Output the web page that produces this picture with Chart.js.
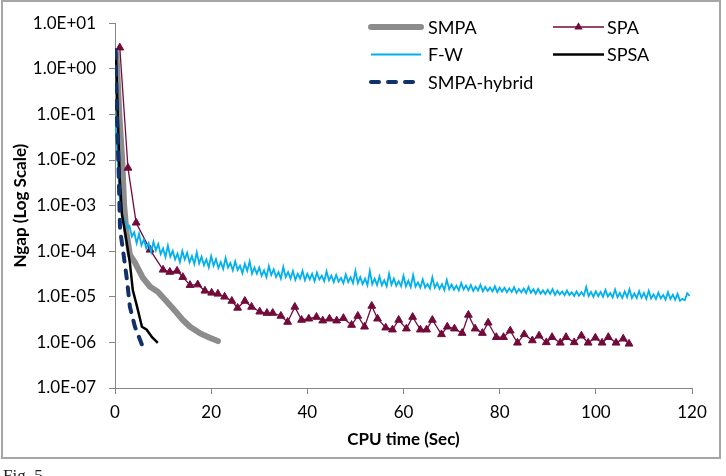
<!DOCTYPE html>
<html>
<head>
<meta charset="utf-8">
<title>Ngap vs CPU time</title>
<script src="https://cdn.jsdelivr.net/npm/chart.js@4.4.0/dist/chart.umd.min.js"></script>
<style>
  html, body { margin: 0; padding: 0; background: #fff; overflow: hidden; }
  #wrap { position: relative; width: 726px; height: 476px; }
  canvas { position: absolute; left: 0; top: 0; }
  #frame { position: absolute; left: 1px; top: 0; width: 716px; height: 455px; border: 2px solid #a6a6a6; }
  #fig { position: absolute; left: 3px; top: 466px; font: 17px 'Liberation Serif', serif; color: #222; }
</style>
</head>
<body>
<div id="wrap">
  <canvas id="chart" width="726" height="476"></canvas>
  <div id="frame"></div>
  <div id="fig">Fig. 5</div>
</div>
<script>
// y axis: only the decades are labelled
const yTickValues = [1e-7, 1e-6, 1e-5, 1e-4, 1e-3, 1e-2, 1e-1, 1e0, 1e1];
const yTickLabels = ['1.0E-07', '1.0E-06', '1.0E-05', '1.0E-04', '1.0E-03', '1.0E-02', '1.0E-01', '1.0E+00', '1.0E+01'];

// SMPA
const smpaTime = [0.3, 0.9, 1.5, 1.9, 2.4, 3.1, 4.15, 5.8, 7.3, 8.9, 10.8, 12.5, 14.1, 15.6, 17.6, 19.7, 21.4];
const smpaGap = [2.2, 1e-1, 1e-2, 1e-3, 2.5e-4, 8.3e-5, 5.6e-5, 2.6e-5, 1.66e-5, 1.29e-5, 7.8e-6, 4.9e-6, 3.1e-6, 2.2e-6, 1.6e-6, 1.26e-6, 1.07e-6];

// SPA
const spaTime = [1.0, 2.7, 4.4, 7.3, 10.0, 11.4, 12.9, 14.1, 15.6, 17.2, 18.7, 20.1, 21.4, 22.8, 24.3,
  25.5, 27.0, 28.4, 30.1, 31.6, 32.8, 34.5, 35.9, 37.4, 38.8, 40.3, 41.9, 43.2, 44.6, 46.1,
  47.5, 49.2, 50.5, 51.9, 53.4, 54.6, 56.3, 57.7, 59.0, 60.6, 61.9, 63.5, 64.8, 66.0, 67.9,
  69.1, 70.6, 72.2, 73.5, 74.9, 76.4, 77.6, 79.3, 80.8, 82.2, 83.7, 85.1, 86.8, 88.2, 89.7,
  90.9, 92.6, 93.8, 95.5, 97.0, 98.4, 99.9, 101.3, 102.6, 104.2, 105.7, 106.9];
const spaGap = [2.9, 6.7e-3, 4.2e-4, 1.07e-4, 3.9e-5, 3.5e-5, 3.7e-5, 2.7e-5, 1.8e-5, 1.85e-5, 1.35e-5, 1.22e-5, 1.16e-5, 1.0e-5, 8.1e-6,
  5.7e-6, 8.1e-6, 6.0e-6, 4.7e-6, 4.4e-6, 4.4e-6, 3.8e-6, 2.8e-6, 6.0e-6, 3.1e-6, 3.3e-6, 3.6e-6, 3.0e-6, 3.3e-6, 3.0e-6,
  3.4e-6, 2.4e-6, 3.8e-6, 2.2e-6, 6.3e-6, 3.3e-6, 2.1e-6, 1.9e-6, 3.1e-6, 2.0e-6, 3.6e-6, 1.9e-6, 1.9e-6, 3.1e-6, 1.5e-6,
  2.2e-6, 2.0e-6, 1.6e-6, 4.0e-6, 2.0e-6, 1.6e-6, 2.7e-6, 1.3e-6, 1.3e-6, 1.8e-6, 9.8e-7, 1.5e-6, 1.1e-6, 1.4e-6, 1.0e-6,
  1.3e-6, 9.8e-7, 1.3e-6, 1.0e-6, 1.4e-6, 9.8e-7, 1.26e-6, 9.8e-7, 1.3e-6, 9.8e-7, 1.2e-6, 9.3e-7];

// F-W
const fwTime = [0, 0.35, 0.7, 1, 1.6,
  2, 2.5, 3, 3.5, 4, 4.5, 5, 5.5, 6, 6.5, 7, 7.5, 8, 8.5, 9, 9.5, 10, 10.5, 11, 11.5, 12, 12.5, 13, 13.5, 14, 14.5,
  15, 15.5, 16, 16.5, 17, 17.5, 18, 18.5, 19, 19.5, 20,
  20.5, 21, 21.5, 22, 22.5, 23, 23.5, 24, 24.5, 25, 25.5, 26, 26.5, 27, 27.5, 28, 28.5, 29, 29.5, 30,
  30.5, 31, 31.5, 32, 32.5, 33, 33.5, 34, 34.5, 35, 35.5, 36, 36.5, 37, 37.5, 38, 38.5, 39, 39.5, 40,
  40.5, 41, 41.5, 42, 42.5, 43, 43.5, 44, 44.5, 45, 45.5, 46, 46.5, 47, 47.5, 48, 48.5, 49, 49.5, 50,
  50.5, 51, 51.5, 52, 52.5, 53, 53.5, 54, 54.5, 55, 55.5, 56, 56.5, 57, 57.5, 58, 58.5, 59, 59.5, 60,
  60.5, 61, 61.5, 62, 62.5, 63, 63.5, 64, 64.5, 65, 65.5, 66, 66.5, 67, 67.5, 68, 68.5, 69, 69.5, 70,
  70.5, 71, 71.5, 72, 72.5, 73, 73.5, 74, 74.5, 75, 75.5, 76, 76.5, 77, 77.5, 78, 78.5, 79, 79.5, 80,
  80.5, 81, 81.5, 82, 82.5, 83, 83.5, 84, 84.5, 85, 85.5, 86, 86.5, 87, 87.5, 88, 88.5, 89, 89.5, 90,
  90.5, 91, 91.5, 92, 92.5, 93, 93.5, 94, 94.5, 95, 95.5, 96, 96.5, 97, 97.5, 98, 98.5, 99, 99.5, 100,
  100.5, 101, 101.5, 102, 102.5, 103, 103.5, 104, 104.5, 105, 105.5, 106, 106.5, 107, 107.5, 108, 108.5, 109, 109.5, 110,
  110.5, 111, 111.5, 112, 112.5, 113, 113.5, 114, 114.5, 115, 115.5, 116, 116.5, 117, 117.5, 118, 118.5, 119, 119.5];
const fwGap = [1e-1, 2.7e-2, 5e-3, 1.3e-3, 5.4e-4,
  48e-5, 33e-5, 36e-5, 21e-5, 26e-5, 15e-5, 24e-5, 13.5e-5, 18e-5, 11.5e-5, 15e-5, 9.6e-5, 16e-5, 10.4e-5, 14.3e-5, 8.6e-5,
  11.5e-5, 7.5e-5, 13.3e-5, 7.6e-5, 10.2e-5, 6.6e-5, 8.8e-5, 5.8e-5, 10.1e-5, 6.6e-5, 9.2e-5, 5.7e-5, 7.8e-5, 5.2e-5,
  9.4e-5, 5.4e-5, 7.6e-5, 4.9e-5, 6.6e-5, 4.4e-5, 7.8e-5,
  4.8e-5, 6.7e-5, 4.3e-5, 5.8e-5, 4.1e-5, 7.1e-5, 4.4e-5, 5.5e-5, 3.8e-5, 6.0e-5, 3.9e-5, 4.8e-5, 3.3e-5, 5.3e-5, 3.7e-5,
  6.0e-5, 3.2e-5, 4.4e-5, 3.2e-5, 4.4e-5, 2.9e-5, 3.8e-5, 2.7e-5, 4.7e-5, 3.0e-5, 4.0e-5, 2.7e-5, 3.5e-5, 2.5e-5, 4.5e-5,
  2.7e-5, 3.5e-5, 2.5e-5, 3.7e-5, 2.35e-5, 3.2e-5, 2.5e-5, 3.7e-5, 2.3e-5, 3.2e-5,
  2.4e-5, 3.2e-5, 2.2e-5, 3.4e-5, 2.4e-5, 2.9e-5, 2.2e-5, 3.6e-5, 2.3e-5, 2.9e-5, 2.1e-5, 3.0e-5, 2.15e-5, 2.6e-5, 2.0e-5,
  3.1e-5, 2.1e-5, 2.7e-5, 2.0e-5, 3.7e-5, 2.0e-5, 2.7e-5, 1.9e-5, 2.5e-5, 1.8e-5, 3.7e-5, 1.9e-5, 2.5e-5, 1.8e-5, 2.8e-5,
  1.8e-5, 2.3e-5, 1.7e-5, 3.2e-5, 1.85e-5, 2.5e-5, 1.75e-5, 2.2e-5, 1.7e-5, 2.9e-5,
  1.7e-5, 2.25e-5, 1.62e-5, 3.0e-5, 1.66e-5, 2.07e-5, 1.58e-5, 2.4e-5, 1.59e-5, 1.9e-5, 1.51e-5, 2.67e-5, 1.58e-5, 2.0e-5, 1.49e-5,
  1.9e-5, 1.41e-5, 2.35e-5, 1.47e-5, 1.85e-5, 1.43e-5, 1.76e-5, 1.38e-5, 2.0e-5, 1.45e-5, 1.76e-5, 1.4e-5, 1.82e-5, 1.35e-5, 1.67e-5,
  1.37e-5, 1.84e-5, 1.32e-5, 1.66e-5, 1.35e-5, 1.59e-5, 1.31e-5, 1.7e-5, 1.27e-5, 1.6e-5,
  1.3e-5, 1.57e-5, 1.26e-5, 1.53e-5, 1.27e-5, 1.62e-5, 1.22e-5, 1.48e-5, 1.25e-5, 1.52e-5, 1.21e-5, 1.64e-5, 1.22e-5, 1.46e-5, 1.17e-5,
  1.49e-5, 1.17e-5, 1.38e-5, 1.15e-5, 1.43e-5, 1.16e-5, 1.47e-5, 1.1e-5, 1.36e-5, 1.13e-5, 1.31e-5, 1.08e-5, 1.37e-5, 1.09e-5, 1.26e-5,
  1.04e-5, 1.31e-5, 1.05e-5, 1.27e-5, 1.06e-5, 1.64e-5, 1.03e-5, 1.28e-5, 1.0e-5, 1.32e-5,
  1.03e-5, 1.28e-5, 1.0e-5, 1.41e-5, 1.01e-5, 1.21e-5, 0.97e-5, 1.44e-5, 0.98e-5, 1.21e-5, 0.94e-5, 1.31e-5, 0.98e-5, 1.46e-5, 0.94e-5,
  1.18e-5, 0.94e-5, 1.33e-5, 0.95e-5, 1.21e-5, 0.9e-5, 1.35e-5, 0.92e-5, 1.13e-5, 0.89e-5, 1.23e-5, 0.92e-5, 1.1e-5, 0.87e-5, 1.27e-5,
  0.89e-5, 1.11e-5, 0.86e-5, 1.16e-5, 0.82e-5, 0.9e-5, 0.84e-5, 1.2e-5, 1.05e-5];

// SPSA
const spsaTime = [0.2, 0.6, 1.0, 1.45, 2.1, 3.1, 3.7, 4.6, 5.6, 6.6, 7.7, 8.9];
const spsaGap = [2.3, 7.5e-2, 3.6e-3, 6.3e-4, 2.6e-4, 5.5e-5, 1.4e-5, 6e-6, 2.2e-6, 1.9e-6, 1.3e-6, 9.8e-7];

// SMPA-hybrid
const hybridTime = [0.1, 0.4, 0.75, 1.05, 1.65, 2.5, 3.1, 4.15, 5.6];
const hybridGap = [2.6, 1e-1, 6e-3, 3e-4, 1.07e-4, 2.3e-5, 6e-6, 2.2e-6, 8.9e-7];

function toPoints(xs, ys) {
    return xs.map((x, i) => ({ x: x, y: ys[i] }));
}

// legend in two columns, drawn like the Excel one
const gridLegend = {
    id: 'gridLegend',
    afterDraw(chart) {
        const ctx = chart.ctx;
        chart.data.datasets.forEach((ds, i) => {
            const col = i % 2;
            const row = Math.floor(i / 2);
            const x0 = col === 0 ? 371 : 553;
            const len = col === 0 ? 50 : 51;
            const y = 27 + row * 27.5;
            ctx.save();
            ctx.strokeStyle = ds.borderColor;
            ctx.lineWidth = ds.borderWidth;
            ctx.lineCap = ds.borderCapStyle || 'butt';
            ctx.setLineDash(ds.borderDash || []);
            ctx.beginPath();
            ctx.moveTo(x0, y);
            ctx.lineTo(x0 + len, y);
            ctx.stroke();
            if (ds.pointRadius > 0) {
                ctx.setLineDash([]);
                ctx.fillStyle = ds.pointBackgroundColor;
                ctx.strokeStyle = ds.pointBorderColor;
                Chart.helpers.drawPoint(ctx, { pointStyle: ds.pointStyle, radius: 3.5, borderWidth: 1, rotation: 0 }, x0 + len / 2, y);
            }
            ctx.fillStyle = '#000';
            ctx.font = '18px Lato';
            ctx.textBaseline = 'middle';
            ctx.fillText(ds.label, col === 0 ? 428 : 607, y + 1);
            ctx.restore();
        });
    }
};

const axisColor = '#868686';

new Chart(document.getElementById('chart'), {
    type: 'line',
    data: {
        datasets: [
            {
                label: 'SMPA', data: toPoints(smpaTime, smpaGap),
                borderColor: '#8c8c8c', borderWidth: 6, borderCapStyle: 'round', borderJoinStyle: 'round',
                pointRadius: 0, order: 5
            },
            {
                label: 'SPA', data: toPoints(spaTime, spaGap),
                borderColor: '#720a3a', borderWidth: 1.3,
                pointStyle: 'triangle', pointRadius: 4.5,
                pointBackgroundColor: '#720a3a', pointBorderColor: '#720a3a', pointBorderWidth: 1,
                order: 4
            },
            {
                label: 'F-W', data: toPoints(fwTime, fwGap),
                borderColor: '#00b0f0', borderWidth: 1.8, pointRadius: 0, order: 3
            },
            {
                label: 'SPSA', data: toPoints(spsaTime, spsaGap),
                borderColor: '#000000', borderWidth: 2.5, pointRadius: 0, order: 2
            },
            {
                label: 'SMPA-hybrid', data: toPoints(hybridTime, hybridGap),
                borderColor: '#12306a', borderWidth: 4, borderDash: [8, 9], borderCapStyle: 'round',
                pointRadius: 0, order: 1
            }
        ]
    },
    options: {
        responsive: false,
        animation: false,
        layout: { padding: { left: 0, right: 34, top: 23, bottom: 0 } },
        elements: { line: { tension: 0, fill: false } },
        plugins: {
            legend: { display: false },
            tooltip: { enabled: false }
        },
        scales: {
            x: {
                type: 'linear', min: 0, max: 120,
                ticks: { stepSize: 20, color: '#000', padding: 8, font: { family: 'Lato', size: 17 } },
                grid: { drawOnChartArea: false, drawTicks: true, tickLength: 6, color: axisColor },
                border: { color: axisColor, width: 1 },
                title: {
                    display: true, text: 'CPU time (Sec)', color: '#000',
                    font: { family: 'Lato', size: 17, weight: 'bold' },
                    padding: { top: 0, bottom: 26 }
                },
                afterFit(scale) { scale.height = 88; }
            },
            y: {
                type: 'logarithmic', min: 1e-7, max: 10,
                afterBuildTicks(scale) { scale.ticks = yTickValues.map(v => ({ value: v })); },
                ticks: {
                    color: '#000', padding: 13, font: { family: 'Lato', size: 17 },
                    callback(value) {
                        const k = yTickValues.findIndex(v => Math.abs(Math.log10(v) - Math.log10(value)) < 1e-6);
                        return k >= 0 ? yTickLabels[k] : '';
                    }
                },
                grid: { drawOnChartArea: false, drawTicks: true, tickLength: 6, color: axisColor },
                border: { color: axisColor, width: 1 },
                title: {
                    display: true, text: 'Ngap (Log Scale)', color: '#000',
                    font: { family: 'Lato', size: 17, weight: 'bold' },
                    padding: { top: 10, bottom: 0 }
                },
                afterFit(scale) { scale.width = 115; }
            }
        }
    },
    plugins: [gridLegend]
});
</script>
</body>
</html>
